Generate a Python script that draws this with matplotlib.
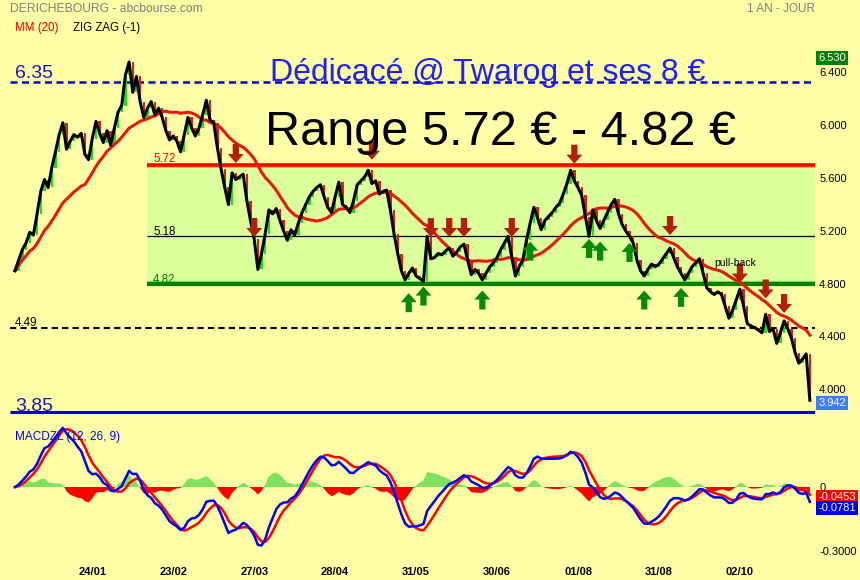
import numpy as np
import pandas as pd
import matplotlib
matplotlib.use("Agg")
import matplotlib.pyplot as plt
import matplotlib.transforms as mtransforms

plt.rcParams['font.family'] = ['Liberation Sans', 'DejaVu Sans']

# daily closes (one per bar)
closes = [
    4.92, 5.00, 5.08, 5.13, 5.21, 5.19, 5.35, 5.52, 5.61, 5.55,
    5.70, 5.82, 5.95, 6.04, 5.84, 5.90, 5.95, 5.93, 5.96, 5.80,
    5.76, 5.92, 6.05, 5.96, 5.89, 5.98, 5.87, 6.00, 6.12, 6.17,
    6.40, 6.50, 6.27, 6.39, 6.20, 6.08, 6.15, 6.20, 6.10, 6.15,
    6.08, 5.98, 5.91, 5.94, 5.90, 5.82, 5.95, 6.08, 6.00, 5.94,
    6.00, 6.10, 6.21, 6.06, 6.04, 5.85, 5.69, 5.55, 5.42, 5.66,
    5.61, 5.63, 5.65, 5.45, 5.30, 5.16, 4.93, 5.05, 5.20, 5.38,
    5.35, 5.39, 5.30, 5.22, 5.15, 5.23, 5.19, 5.28, 5.36, 5.42,
    5.48, 5.52, 5.55, 5.57, 5.48, 5.40, 5.36, 5.48, 5.59, 5.42,
    5.40, 5.36, 5.45, 5.57, 5.60, 5.63, 5.68, 5.58, 5.60, 5.50,
    5.52, 5.53, 5.38, 5.20, 5.05, 4.92, 4.85, 4.90, 4.94, 4.88,
    4.86, 4.84, 5.18, 5.01, 5.02, 5.05, 5.04, 5.07, 5.09, 5.03,
    5.06, 5.10, 5.12, 5.00, 4.89, 4.93, 4.90, 4.85, 4.90, 4.95,
    4.98, 5.02, 5.08, 5.13, 5.18, 5.02, 4.88, 4.95, 5.00, 5.15,
    5.28, 5.40, 5.32, 5.23, 5.30, 5.33, 5.36, 5.40, 5.43, 5.50,
    5.58, 5.68, 5.60, 5.55, 5.49, 5.33, 5.18, 5.38, 5.30, 5.24,
    5.30, 5.36, 5.42, 5.46, 5.35, 5.27, 5.22, 5.18, 5.13, 5.00,
    4.92, 4.88, 4.93, 4.97, 4.95, 4.97, 5.01, 5.05, 5.09, 5.02,
    4.95, 4.90, 4.85, 4.90, 4.95, 4.98, 5.01, 4.90, 4.79, 4.76,
    4.74, 4.76, 4.74, 4.65, 4.56, 4.62, 4.70, 4.78, 4.65, 4.52,
    4.50, 4.49, 4.47, 4.45, 4.59, 4.46, 4.48, 4.37, 4.45, 4.54,
    4.48, 4.41, 4.30, 4.22, 4.25, 4.29, 3.94,
]

date_idx = [21, 43, 65, 87, 109, 131, 153, 175, 197]
date_labels = ['24/01', '23/02', '27/03', '28/04', '31/05', '30/06', '01/08', '31/08', '02/10']

price_ticks = [6.4, 6.0, 5.6, 5.2, 4.8, 4.4, 4.0]

# signal arrows: bar index and price of the arrow tip
down_idx = [60, 65, 97, 113, 118, 122, 135, 152, 178, 197, 204, 209]
down_tip = [5.735, 5.175, 5.76, 5.175, 5.175, 5.175, 5.175, 5.73, 5.19, 4.83, 4.71, 4.60]
up_idx = [107, 111, 127, 140, 156, 159, 167, 171, 181]
up_tip = [4.75, 4.80, 4.77, 5.14, 5.16, 5.14, 5.13, 4.77, 4.79]

range_top, range_mid, range_bot = 5.72, 5.18, 4.82
range_start = 36
level_high, level_support, level_low = 6.35, 4.49, 3.85

last_close_lbl = '3.942'
high_lbl = '6.530'
macd_lbl, signal_lbl = '-0.0781', '-0.0453'

BG = '#ffffa8'
W, H = 860, 580

c = pd.Series(closes)
n = len(c)
x = np.arange(n)
ma20 = c.rolling(20, min_periods=1).mean()


def ema(s, span):
    return s.ewm(span=span, adjust=False).mean()


def zlema(s, span):
    e1 = ema(s, span)
    return 2 * e1 - ema(e1, span)


macd = zlema(c, 12) - zlema(c, 26)
signal = zlema(macd, 9)
hist = macd - signal

opens = c.shift(1).fillna(c.iloc[0])

fig = plt.figure(figsize=(W / 100, H / 100), dpi=100, facecolor=BG)
ax = fig.add_axes([0, 1 - 418 / H, 815 / W, 418 / H], facecolor=BG)
ax2 = fig.add_axes([0, 20 / H, 815 / W, 140 / H], facecolor=BG)

xl, xr = -4.08, 217.4
for a in (ax, ax2):
    a.set_xlim(xl, xr)
    for s in a.spines.values():
        s.set_visible(False)
    a.tick_params(length=0)
    a.yaxis.tick_right()

ax.set_ylim(3.805, 6.969)
ax2.set_ylim(-0.342, 0.314)

# range zone
ax.fill_between([range_start, xr], range_bot, 5.705, color='#dcff9c', zorder=0, lw=0)
ax.hlines(5.705, range_start, xr, color='#66ee33', lw=1.2, zorder=1)
ax.hlines(range_bot + 0.012, range_start, xr, color='#55ee33', lw=1.2, zorder=1)
ax.hlines(range_bot, range_start, xr, color='#008000', lw=3, zorder=1)
ax.hlines(range_top, range_start, xr, color='#ff0000', lw=2.6, zorder=1)
ax.hlines(range_mid, range_start, xr, color='black', lw=0.9, zorder=1)

ax.hlines(level_high, -1.4, xr, color='#0000cc', lw=1.8, linestyles=[(0, (2.8, 1.8))], zorder=1)
ax.hlines(level_support, -1.4, xr, color='black', lw=1.5, linestyles=[(0, (3.0, 2.0))], zorder=1)
ax.hlines(level_low, -1.4, xr, color='#0000cc', lw=2.2, zorder=1)

# candles
up = c >= opens
body = (c - opens).where((c - opens).abs() > 0.008, 0.008)
ax.bar(x[up], body[up], bottom=opens[up], width=0.65, color='#22dd22', zorder=2)
ax.bar(x[~up], body[~up], bottom=opens[~up], width=0.65, color='#c8281e', zorder=2)

ax.plot(x, ma20, color='#e41a0c', lw=2.2, zorder=3)
ax.plot(x, c, color='black', lw=2.2, zorder=4)

for i, p in zip(down_idx, down_tip):
    ax.annotate('', xy=(i, p), xytext=(0, 19), textcoords='offset pixels',
                arrowprops=dict(arrowstyle='simple,head_length=0.65,head_width=1.15,tail_width=0.45',
                                fc='#b0200c', ec='none', mutation_scale=10,
                                shrinkA=0, shrinkB=0), zorder=5)
for i, p in zip(up_idx, up_tip):
    ax.annotate('', xy=(i, p), xytext=(0, -19), textcoords='offset pixels',
                arrowprops=dict(arrowstyle='simple,head_length=0.65,head_width=1.15,tail_width=0.45',
                                fc='#078a07', ec='none', mutation_scale=10,
                                shrinkA=0, shrinkB=0), zorder=5)

ax.set_yticks(price_ticks)
ax.set_yticklabels([f'{v:.3f}' for v in price_ticks], fontsize=8)
ax.tick_params(axis='y', pad=3)
ax.set_xticks([])
# labels sit a few pixels above their level in the original
lift = mtransforms.ScaledTranslation(0, 3 / 100, fig.dpi_scale_trans)
for lbl in ax.get_yticklabels():
    lbl.set_transform(lbl.get_transform() + lift)

bt = mtransforms.blended_transform_factory(ax.transAxes, ax.transData)
ax.text(1.004, 6.53, high_lbl, transform=bt, fontsize=8, color='white', va='center',
        bbox=dict(fc='#008000', ec='none', pad=1.5))
ax.text(1.004, 3.942, last_close_lbl, transform=bt + mtransforms.ScaledTranslation(0, -3 / 100, fig.dpi_scale_trans),
        fontsize=8, color='white', va='center', bbox=dict(fc='#3d7bff', ec='none', pad=1.5))

# MACD panel
ax2.fill_between(x, 0, hist, where=hist >= 0, interpolate=True, color='#80e060', lw=0)
ax2.fill_between(x, 0, hist, where=hist < 0, interpolate=True, color='#ff0000', lw=0)
ax2.plot(x, signal, color='#ff0000', lw=1.8)
ax2.plot(x, macd, color='#0000ff', lw=1.8)
ax2.set_yticks([0, -0.3])
ax2.set_yticklabels(['0', '-0.3000'], fontsize=8)
ax2.tick_params(axis='y', pad=3)
ax2.set_xticks(date_idx)
ax2.set_xticklabels(date_labels, fontsize=8, fontweight='bold')
ax2.tick_params(axis='x', pad=5)

bt2 = mtransforms.blended_transform_factory(ax2.transAxes, ax2.transData)
ax2.text(1.004, -0.0453, signal_lbl, transform=bt2, fontsize=8, color='white', va='center',
         bbox=dict(fc='#ff0000', ec='none', pad=1.5))
ax2.text(1.004, -0.0985, macd_lbl, transform=bt2, fontsize=8, color='white', va='center',
         bbox=dict(fc='#0000ee', ec='none', pad=1.5))


def ft(px, py, s, **kw):
    fig.text(px / W, 1 - py / H, s, **kw)


ft(10, 9, 'DERICHEBOURG - abcbourse.com', fontsize=8.7, color='#7f7f7f', va='center')
ft(815, 9, '1 AN - JOUR', fontsize=8.5, color='#7f7f7f', va='center', ha='right')
ft(15, 28, 'MM (20)', fontsize=8.3, color='#ff0000', va='center')
ft(73, 28, 'ZIG ZAG (-1)', fontsize=8.3, color='black', va='center')
ft(270, 81, 'Dédicacé @ Twarog et ses 8 €', fontsize=23, color='#2020ff', va='baseline')
ft(265, 145, 'Range 5.72 € - 4.82 €', fontsize=35, color='black', va='baseline')
ft(15, 78, '6.35', fontsize=14, color='#1515cc', va='baseline')
ft(15, 411, '3.85', fontsize=14, color='#1515cc', va='baseline')
ft(15, 326, '4.49', fontsize=8.3, color='black', va='baseline')
ft(153, 162, '5.72', fontsize=8.3, color='#ff0000', va='baseline')
ft(153, 235, '5.18', fontsize=8.3, color='black', va='baseline')
ft(153, 283, '4.82', fontsize=8.3, color='#008000', va='baseline')
ft(714, 266, 'pull-back', fontsize=7.5, color='black', va='baseline')
ft(15, 440, 'MACDZL (12, 26, 9)', fontsize=8.5, color='#0000ff', va='baseline')

fig.savefig('out.png', dpi=100, facecolor=BG)
